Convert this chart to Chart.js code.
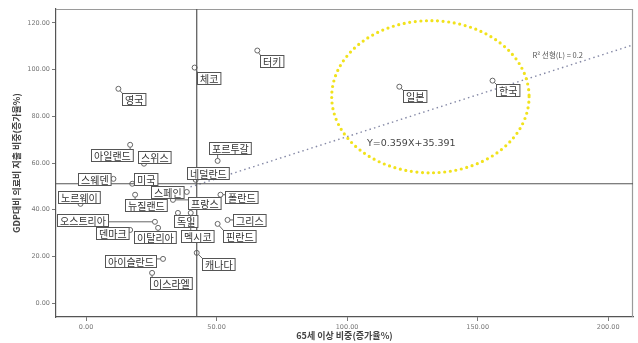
<!DOCTYPE html>
<html>
<head>
<meta charset="utf-8">
<script src="https://cdn.jsdelivr.net/npm/chart.js@4"></script>
<style>
  html, body { margin: 0; padding: 0; background: #fff; }
  canvas { display: block; }
</style>
</head>
<body>
<canvas id="c" width="638" height="343"></canvas>
<script>
// OECD countries: growth of the 65+ population share vs growth of health spending share of GDP
const countries = ['영국','체코','터키','일본','한국','아일랜드','스위스','포르투갈','네덜란드','스웨덴','미국','노르웨이','스페인','뉴질랜드','프랑스','폴란드','오스트리아','덴마크','이탈리아','독일','멕시코','그리스','핀란드','캐나다','아이슬란드','이스라엘'];
const elderlyShareGrowth = [12.4, 41.6, 65.6, 120.0, 155.7, 16.9, 22.2, 50.4, 42.0, 10.5, 17.7, -2.1, 38.6, 18.8, 33.3, 51.5, 26.4, 16.9, 27.6, 35.2, 40.1, 54.2, 50.4, 42.4, 29.5, 25.3];
const healthSpendGrowth = [91.8, 100.9, 108.2, 92.7, 95.3, 67.8, 59.7, 60.9, 52.8, 53.2, 51.1, 42.5, 47.6, 46.4, 44.2, 46.4, 34.8, 31.3, 32.2, 38.6, 38.6, 35.6, 33.9, 21.5, 18.9, 12.9];
const xTickValues = [0, 50, 100, 150, 200];
const yTickValues = [0, 20, 40, 60, 80, 100, 120];

// Linear fit and reference (mean) lines
const fitSlope = 0.359;
const fitIntercept = 35.391;
const rSquared = 0.2;
const fitRange = [40, 209.5];
const meanElderly = 42.4;
const meanHealth = 51.1;

// Highlighted group (Japan, Korea): centre and radii in data units
const highlightCenter = [131.9, 88.4];
const highlightRadii = [37.8, 32.6];

// Where each country's name box sits relative to its point (pixels)
const labelOffsets = [[15,10],[14,10],[14,10],[15,9],[15,9],[-18,10],[10,-7],[12,-13],[12,-7],[-19,0],[13,-5],[-2,-7],[-20,0],[11,10],[31,3],[21,2],[-72,-2],[-18,3],[-3,9],[8,8],[7,23],[22,0],[22,12],[22,11],[-33,2],[19,10]];

const X_MIN = -11.5, X_MAX = 209.5, Y_MIN = -6, Y_MAX = 126;

const points = countries.map((c, i) => ({ x: elderlyShareGrowth[i], y: healthSpendGrowth[i] }));
const fitLine = fitRange.map(x => ({ x, y: fitSlope * x + fitIntercept }));

const frame = {
  id: 'plotFrame',
  beforeDatasetsDraw(chart) {
    const { ctx, chartArea: a } = chart;
    ctx.save();
    ctx.strokeStyle = '#9a9a9a';
    ctx.lineWidth = 1.2;
    ctx.beginPath();
    ctx.moveTo(a.left, a.top + 0.5);
    ctx.lineTo(a.right - 0.5, a.top + 0.5);
    ctx.lineTo(a.right - 0.5, a.bottom);
    ctx.stroke();
    ctx.restore();
  }
};

const highlight = {
  id: 'highlight',
  afterDatasetsDraw(chart) {
    const { ctx, scales: { x, y } } = chart;
    const cx = x.getPixelForValue(highlightCenter[0]);
    const cy = y.getPixelForValue(highlightCenter[1]);
    const rx = x.getPixelForValue(highlightCenter[0] + highlightRadii[0]) - cx;
    const ry = cy - y.getPixelForValue(highlightCenter[1] + highlightRadii[1]);
    ctx.save();
    ctx.strokeStyle = '#f1e21c';
    ctx.lineWidth = 3.2;
    ctx.lineCap = 'round';
    ctx.setLineDash([0, 5.6]);
    ctx.beginPath();
    ctx.ellipse(cx, cy, rx, ry, 0, 0, Math.PI * 2);
    ctx.stroke();
    ctx.setLineDash([]);

    // fit annotations
    ctx.fillStyle = '#444';
    ctx.textBaseline = 'middle';
    ctx.font = '9.5px "DejaVu Sans", sans-serif';
    ctx.fillText('Y=' + fitSlope + 'X+' + fitIntercept, x.getPixelForValue(107.6), y.getPixelForValue(68.4));
    ctx.font = '7.5px "Noto Sans CJK KR", sans-serif';
    ctx.fillStyle = '#555';
    ctx.fillText('R² 선형(L) = ' + rSquared, x.getPixelForValue(171.0), y.getPixelForValue(106.4));
    ctx.restore();
  }
};

const countryLabels = {
  id: 'countryLabels',
  afterDatasetsDraw(chart) {
    const { ctx } = chart;
    const meta = chart.getDatasetMeta(2);
    ctx.save();
    ctx.font = '10px "Noto Sans CJK KR", sans-serif';
    ctx.textAlign = 'center';
    ctx.textBaseline = 'middle';
    meta.data.forEach((pt, i) => {
      const [dx, dy] = labelOffsets[i];
      const text = countries[i];
      const w = ctx.measureText(text).width + 5;
      const h = 12;
      const cx = pt.x + dx, cy = pt.y + dy;
      const l = Math.round(cx - w / 2) + 0.5, t = Math.round(cy - h / 2) + 0.5;
      // leader line from the point to the nearest edge of its box
      const nx = Math.max(l, Math.min(pt.x, l + w));
      const ny = Math.max(t, Math.min(pt.y, t + h));
      const d = Math.hypot(nx - pt.x, ny - pt.y);
      if (d > 3) {
        const ux = (nx - pt.x) / d, uy = (ny - pt.y) / d;
        ctx.strokeStyle = '#666';
        ctx.lineWidth = 1;
        ctx.beginPath();
        ctx.moveTo(pt.x + ux * 2.5, pt.y + uy * 2.5);
        ctx.lineTo(nx, ny);
        ctx.stroke();
      }
      ctx.fillStyle = '#fff';
      ctx.fillRect(l, t, w, h);
      ctx.strokeStyle = '#555';
      ctx.lineWidth = 1;
      ctx.strokeRect(l, t, w, h);
      ctx.fillStyle = '#333';
      ctx.fillText(text, l + w / 2, t + h / 2 + 0.5);
    });
    ctx.restore();
  }
};

const tickFont = { family: '"DejaVu Sans", sans-serif', size: 6.5 };
const titleFont = { family: '"Noto Sans CJK KR", sans-serif', size: 9, weight: 'bold' };

new Chart(document.getElementById('c'), {
  type: 'scatter',
  data: {
    datasets: [
      {
        type: 'line',
        data: [{ x: meanElderly, y: Y_MIN }, { x: meanElderly, y: Y_MAX }],
        borderColor: '#555', borderWidth: 1.2, pointRadius: 0, fill: false
      },
      {
        type: 'line',
        data: [{ x: X_MIN, y: meanHealth }, { x: X_MAX, y: meanHealth }],
        borderColor: '#555', borderWidth: 1.2, pointRadius: 0, fill: false
      },
      {
        data: points,
        pointRadius: 2.5,
        pointBorderColor: '#666',
        pointBackgroundColor: '#fff',
        pointBorderWidth: 1
      },
      {
        type: 'line',
        data: fitLine,
        borderColor: '#8589a6', borderWidth: 1.4, borderDash: [1.5, 3.2],
        pointRadius: 0, fill: false
      }
    ]
  },
  options: {
    responsive: false,
    animation: false,
    events: [],
    layout: { padding: { top: 9, right: 1, left: 0, bottom: 0 } },
    plugins: { legend: { display: false }, tooltip: { enabled: false } },
    scales: {
      x: {
        type: 'linear', min: X_MIN, max: X_MAX,
        afterBuildTicks: s => { s.ticks = xTickValues.map(v => ({ value: v })); },
        afterFit: s => { s.height = 26; },
        ticks: { callback: v => Number(v).toFixed(2), font: tickFont, color: '#777', padding: 2, maxRotation: 0, autoSkip: false },
        grid: { drawOnChartArea: false, tickLength: 4, color: '#777' },
        border: { color: '#555', width: 1.2 },
        title: { display: true, text: '65세 이상 비중(증가율%)', font: titleFont, color: '#444', padding: { top: 0, bottom: 2 } }
      },
      y: {
        type: 'linear', min: Y_MIN, max: Y_MAX,
        afterBuildTicks: s => { s.ticks = yTickValues.map(v => ({ value: v })); },
        afterFit: s => { s.width = 56; },
        ticks: { callback: v => Number(v).toFixed(2), font: tickFont, color: '#777', padding: 2, autoSkip: false },
        grid: { drawOnChartArea: false, tickLength: 4, color: '#777' },
        border: { color: '#555', width: 1.2 },
        title: { display: true, text: 'GDP대비 의료비 지출 비중(증가율%)', font: titleFont, color: '#444', padding: { top: 11, bottom: 0 } }
      }
    }
  },
  plugins: [frame, highlight, countryLabels]
});
</script>
</body>
</html>
